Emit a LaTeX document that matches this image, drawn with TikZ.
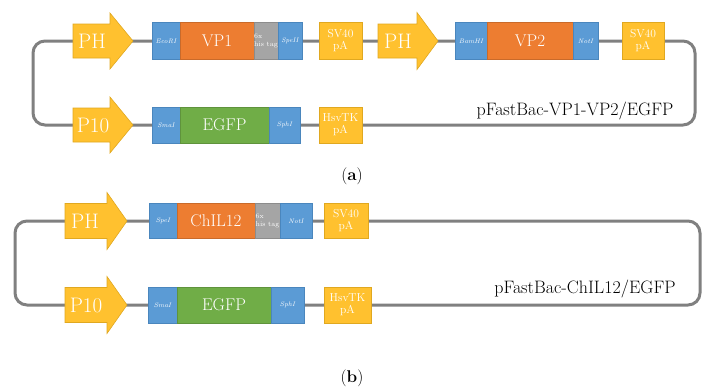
\documentclass[tikz,border=0pt]{standalone}
\usetikzlibrary{positioning}
\definecolor{cyel}{HTML}{FFC12F}
\definecolor{cyelb}{HTML}{E0A820}
\definecolor{cblue}{HTML}{5B9BD5}
\definecolor{cblueb}{HTML}{4A86BD}
\definecolor{cora}{HTML}{ED7D31}
\definecolor{cgreen}{HTML}{70AD47}
\definecolor{cgray}{HTML}{A5A5A5}
\definecolor{cline}{HTML}{808080}
\tikzset{
  backbone/.style={draw=cline, line width=3pt, rounded corners=12pt},
  elem/.style={rectangle, inner sep=0pt, text=white, align=center, draw=cblueb, line width=0.6pt},
  site/.style={elem, fill=cblue, font=\fontsize{6.5}{7}\selectfont\itshape},
  gene/.style={elem, fill=cora, draw=cora!85!black, font=\fontsize{17}{18}\selectfont},
  egfp/.style={elem, fill=cgreen, draw=cgreen!85!black, font=\fontsize{17}{18}\selectfont},
  tag/.style={elem, fill=cgray, draw=cgray!85!black, align=left, font=\fontsize{7}{8}\selectfont},
  pa/.style={elem, fill=cyel, draw=cyelb, font=\fontsize{11.5}{12}\selectfont},
  prom/.style={fill=cyel, draw=cyelb, line width=0.6pt},
  promtxt/.style={inner sep=0pt, text=white, font=\fontsize{21}{22}\selectfont},
  plabel/.style={inner sep=0pt, font=\fontsize{18}{20}\selectfont},
  panel/.style={inner sep=0pt, font=\fontsize{17}{18}\selectfont},
}
% promoter arrow: body from #1 to #2, tip at #3, centre y #4, body half-height #5, head half-height #6
\newcommand{\promarrow}[6]{%
  \draw[prom] (#1,#4-#5) -- (#2,#4-#5) -- (#2,#4-#6) -- (#3,#4) -- (#2,#4+#6) -- (#2,#4+#5) -- (#1,#4+#5) -- cycle;}
\begin{document}
\begin{tikzpicture}[x=1pt,y=-1pt]
\useasboundingbox (0,0) rectangle (705,388);
% ---------- panel (a) ----------
\coordinate (aTL) at (33,41);
\coordinate (aBR) at (695,125);
\draw[backbone] (aTL) rectangle (aBR);
\promarrow{73}{110}{133}{41}{17}{28}
\node[promtxt] (ph1) at (92,41) {PH};
\promarrow{73}{110}{133}{125}{17}{28}
\node[promtxt] (p10a) at (93,125) {P10};
\promarrow{378}{417}{438}{41}{17}{28.5}
\node[promtxt] (ph2) at (398,41) {PH};

\node[site, minimum width=28pt, minimum height=37pt] (ecori) at (166,41) {EcoRI};
\node[gene, minimum width=74pt, minimum height=37pt] (vp1) at (217,41) {VP1};
\node[tag, minimum width=24pt, minimum height=37pt] (his1) at (266,41) {6x\\his tag};
\node[site, minimum width=24pt, minimum height=37pt] (speii) at (290,41) {SpeII};
\node[pa, minimum width=43pt, minimum height=37pt] (sv40a) at (340.5,41) {SV40\\pA};
\node[site, minimum width=32pt, minimum height=37pt] (bamhi) at (471,41) {BamHI};
\node[gene, minimum width=86pt, minimum height=37pt] (vp2) at (530,41) {VP2};
\node[site, minimum width=25pt, minimum height=37pt] (noti) at (585.5,41) {NotI};
\node[pa, minimum width=42pt, minimum height=37pt] (sv40b) at (643,41) {SV40\\pA};

\node[site, minimum width=28pt, minimum height=36pt] (smaia) at (166,125) {SmaI};
\node[egfp, minimum width=89pt, minimum height=36pt] (egfpa) at (224.5,125) {EGFP};
\node[site, minimum width=31pt, minimum height=36pt] (sphia) at (284.5,125) {SphI};
\node[pa, minimum width=43pt, minimum height=36pt] (hsva) at (340.5,125) {HsvTK\\pA};

\node[plabel] (namea) at (575,111) {pFastBac-VP1-VP2/EGFP};
\node[panel] (laba) at (352,176) {(\textbf{a})};

% ---------- panel (b) ----------
\coordinate (bTL) at (15,221);
\coordinate (bBR) at (700,305);
\draw[backbone] (bTL) rectangle (bBR);
\promarrow{65}{107}{127}{221}{17.5}{28.5}
\node[promtxt] (ph3) at (85,221) {PH};
\promarrow{65}{107}{127}{305}{17.5}{28.5}
\node[promtxt] (p10b) at (86,305) {P10};

\node[site, minimum width=28pt, minimum height=35pt] (spei) at (163,221) {SpeI};
\node[gene, minimum width=78pt, minimum height=35pt] (chil) at (216,221) {ChIL12};
\node[tag, minimum width=25pt, minimum height=35pt] (his2) at (267.5,221) {6x\\his tag};
\node[site, minimum width=32pt, minimum height=35pt] (notib) at (296,221) {NotI};
\node[pa, minimum width=44pt, minimum height=35pt] (sv40c) at (346,221) {SV40\\pA};

\node[site, minimum width=29pt, minimum height=36pt] (smaib) at (162.5,305) {SmaI};
\node[egfp, minimum width=94pt, minimum height=36pt] (egfpb) at (224,305) {EGFP};
\node[site, minimum width=33pt, minimum height=36pt] (sphib) at (287.5,305) {SphI};
\node[pa, minimum width=47pt, minimum height=36pt] (hsvb) at (347.5,305) {HsvTK\\pA};

\node[plabel] (nameb) at (585,289) {pFastBac-ChIL12/EGFP};
\node[panel] (labb) at (352,378) {(\textbf{b})};
\end{tikzpicture}
\end{document}
